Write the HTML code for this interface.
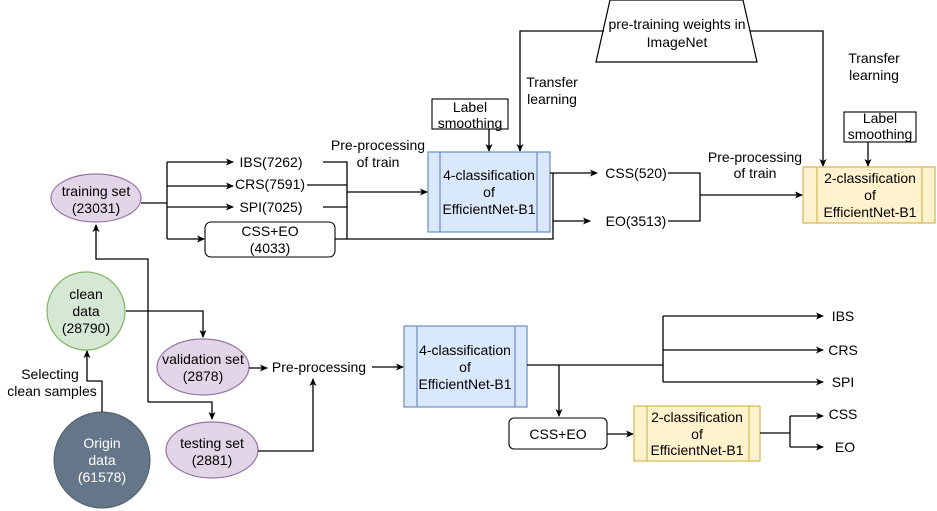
<!DOCTYPE html>
<html><head><meta charset="utf-8"><style>
html,body{margin:0;padding:0;background:#fff;}
svg{display:block;}
text{font-family:"Liberation Sans",sans-serif;font-size:14px;fill:#000;text-anchor:middle;dominant-baseline:central;}
.l{fill:none;stroke:#000;stroke-width:1.3;}
</style></head><body>
<svg width="937" height="511" viewBox="0 0 937 511" xmlns="http://www.w3.org/2000/svg">
<defs><marker id="a" markerWidth="8" markerHeight="8" refX="7" refY="4" orient="auto" markerUnits="userSpaceOnUse"><path d="M0,0.5 L8,4 L0,7.5 L2,4z" fill="#000"/></marker></defs>

<polygon points="610,0 743,0 757,62 596,62" fill="#fff" stroke="#000" stroke-width="1.2"/>
<text x="677" y="24">pre-training weights in</text>
<text x="677" y="42">ImageNet</text>
<path class="l" d="M604,31 H520 V151" marker-end="url(#a)"/>
<path class="l" d="M750,31 H823 V166" marker-end="url(#a)"/>
<text x="552" y="82">Transfer</text><text x="552" y="99">learning</text>
<text x="874" y="58">Transfer</text><text x="874" y="75">learning</text>

<rect x="432" y="99" width="76" height="30" fill="#fff" stroke="#000" stroke-width="1.1"/>
<text x="470" y="107">Label</text><text x="470" y="123">smoothing</text>
<path class="l" d="M489,129 V151" marker-end="url(#a)"/>
<rect x="844" y="112" width="72" height="30" fill="#fff" stroke="#000" stroke-width="1.1"/>
<text x="880" y="118">Label</text><text x="880" y="134">smoothing</text>
<path class="l" d="M868,142 V166" marker-end="url(#a)"/>

<rect x="428" y="152" width="122" height="80" fill="#dae8fc" stroke="#6c8ebf" stroke-width="1.2"/>
<path d="M440,152V232M537,152V232" stroke="#6c8ebf" stroke-width="1.2"/>
<text x="489" y="175">4-classification</text><text x="489" y="192">of</text><text x="489" y="209">EfficientNet-B1</text>

<rect x="803" y="167" width="132" height="56" fill="#fff2cc" stroke="#d6b656" stroke-width="1.2"/>
<path d="M817,167V223M922,167V223" stroke="#d6b656" stroke-width="1.2"/>
<text x="870" y="178">2-classification</text><text x="870" y="195">of</text><text x="870" y="212">EfficientNet-B1</text>

<ellipse cx="96" cy="198" rx="45" ry="24" fill="#e1d5e7" stroke="#9673a6" stroke-width="1.2"/>
<text x="96" y="191">training set</text><text x="96" y="208">(23031)</text>
<path class="l" d="M141,203 H167"/>
<path class="l" d="M167,162 V239"/>
<path class="l" d="M167,162 H233" marker-end="url(#a)"/>
<path class="l" d="M167,186 H233" marker-end="url(#a)"/>
<path class="l" d="M167,207 H233" marker-end="url(#a)"/>
<path class="l" d="M167,239 H204" marker-end="url(#a)"/>
<text x="271" y="162">IBS(7262)</text>
<text x="270" y="184">CRS(7591)</text>
<text x="271" y="207">SPI(7025)</text>
<rect x="205" y="222" width="130" height="35" rx="6" fill="#fff" stroke="#000" stroke-width="1.1"/>
<text x="270" y="231">CSS+EO</text><text x="270" y="248">(4033)</text>
<path class="l" d="M323,162 H347 V239 M307,185 H347 M323,207 H347"/>
<path class="l" d="M347,192 H427" marker-end="url(#a)"/>
<text x="378" y="145">Pre-processing</text><text x="378" y="162">of train</text>
<path class="l" d="M335,239 H553 V221"/>

<path class="l" d="M550,173 H553 V173 H597" marker-end="url(#a)"/>
<path class="l" d="M553,173 V221 H590" marker-end="url(#a)"/>
<text x="636" y="173">CSS(520)</text>
<text x="636" y="221">EO(3513)</text>
<path class="l" d="M668,173 H700 V221 H668"/>
<path class="l" d="M700,195 H802" marker-end="url(#a)"/>
<text x="755" y="157">Pre-processing</text><text x="755" y="173">of train</text>

<circle cx="86" cy="311" r="39" fill="#d5e8d4" stroke="#82b366" stroke-width="1.2"/>
<text x="86" y="294">clean</text><text x="86" y="311">data</text><text x="86" y="328">(28790)</text>
<path class="l" d="M126,311 H203 V337" marker-end="url(#a)"/>
<path class="l" d="M148,402 V259 H96 V225" marker-end="url(#a)"/>
<path class="l" d="M148,402 H212 V419" marker-end="url(#a)"/>

<ellipse cx="203" cy="367" rx="46" ry="28" fill="#e1d5e7" stroke="#9673a6" stroke-width="1.2"/>
<text x="203" y="359">validation set</text><text x="203" y="376">(2878)</text>
<ellipse cx="212" cy="450" rx="46" ry="28" fill="#e1d5e7" stroke="#9673a6" stroke-width="1.2"/>
<text x="212" y="443">testing set</text><text x="212" y="460">(2881)</text>

<circle cx="102" cy="460" r="48" fill="#647687" stroke="#4d5d6e" stroke-width="1"/>
<text x="102" y="443" style="fill:#fff">Origin</text><text x="102" y="460" style="fill:#fff">data</text><text x="102" y="477" style="fill:#fff">(61578)</text>
<path class="l" d="M102,412 V381 H87 V351" marker-end="url(#a)"/>
<text x="50" y="374">Selecting</text><text x="52" y="391">clean samples</text>

<path class="l" d="M249,368 H267" marker-end="url(#a)"/>
<text x="319" y="367">Pre-processing</text>
<path class="l" d="M372,367 H403" marker-end="url(#a)"/>
<path class="l" d="M258,451 H313 V379" marker-end="url(#a)"/>

<rect x="404" y="326" width="123" height="81" fill="#dae8fc" stroke="#6c8ebf" stroke-width="1.2"/>
<path d="M417,326V407M515,326V407" stroke="#6c8ebf" stroke-width="1.2"/>
<text x="465" y="350">4-classification</text><text x="465" y="367">of</text><text x="465" y="384">EfficientNet-B1</text>
<path class="l" d="M527,365 H663"/>
<path class="l" d="M663,316 V382"/>
<path class="l" d="M663,316 H823" marker-end="url(#a)"/>
<path class="l" d="M663,350 H823" marker-end="url(#a)"/>
<path class="l" d="M663,382 H823" marker-end="url(#a)"/>
<text x="843" y="316">IBS</text><text x="843" y="350">CRS</text><text x="843" y="382">SPI</text>
<path class="l" d="M559,365 V416" marker-end="url(#a)"/>
<rect x="509" y="418" width="98" height="31" rx="5" fill="#fff" stroke="#000" stroke-width="1.1"/>
<text x="558" y="434">CSS+EO</text>
<path class="l" d="M607,434 H633" marker-end="url(#a)"/>
<rect x="634" y="406" width="126" height="55" fill="#fff2cc" stroke="#d6b656" stroke-width="1.2"/>
<path d="M647,406V461M749,406V461" stroke="#d6b656" stroke-width="1.2"/>
<text x="697" y="417">2-classification</text><text x="697" y="434">of</text><text x="697" y="450">EfficientNet-B1</text>
<path class="l" d="M760,433 H790 M790,416 V447"/>
<path class="l" d="M790,416 H823" marker-end="url(#a)"/>
<path class="l" d="M790,447 H823" marker-end="url(#a)"/>
<text x="843" y="414">CSS</text><text x="845" y="447">EO</text>
</svg>
</body></html>
